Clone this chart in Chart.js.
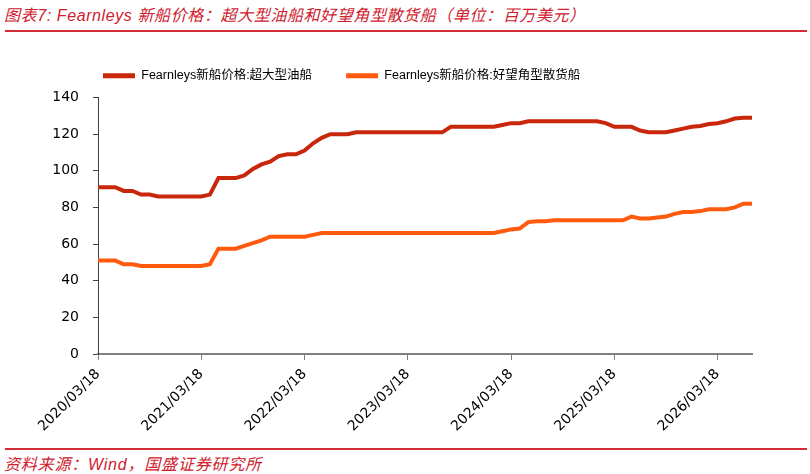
<!DOCTYPE html>
<html>
<head>
<meta charset="utf-8">
<script src="https://cdn.jsdelivr.net/npm/chart.js@4.4.0/dist/chart.umd.min.js"></script>
<style>
body { margin: 0; width: 810px; height: 474px; background: #fff; position: relative; overflow: hidden; }
.title { position: absolute; left: 4px; top: 2px; font: italic 16px "Liberation Sans", "Noto Sans CJK SC", sans-serif; letter-spacing: 0.6px; color: #d0202e; white-space: nowrap; }
.rule { position: absolute; left: 5px; width: 802px; height: 2px; background: #d42a36; }
.src { position: absolute; left: 4px; top: 451px; font: italic 16px "Liberation Sans", "Noto Sans CJK SC", sans-serif; letter-spacing: 0.8px; color: #d0202e; white-space: nowrap; }
#box { position: absolute; left: 0; top: 41px; }
</style>
</head>
<body>
<div class="title">图表7: Fearnleys 新船价格：超大型油船和好望角型散货船（单位：百万美元）</div>
<div class="rule" style="top:30px"></div>
<canvas id="box" width="810" height="398"></canvas>
<div class="rule" style="top:448px"></div>
<div class="src">资料来源：Wind，国盛证券研究所</div>
<script>
// monthly observations, 2020/03/18 .. 2026/07/18
const startYear = 2020, startMonth = 3, nMonths = 77
const dates = []
for (let i = 0; i < nMonths; i++) {
    const m = startMonth - 1 + i
    const y = startYear + Math.floor(m / 12)
    const mm = String(m % 12 + 1).padStart(2, "0")
    dates.push(y + "/" + mm + "/18")
}

const tickLabels = ["2020/03/18", "2021/03/18", "2022/03/18", "2023/03/18", "2024/03/18", "2025/03/18", "2026/03/18"]

const vlccName = "Fearnleys新船价格:超大型油船"
const capeName = "Fearnleys新船价格:好望角型散货船"

const vlcc = [
    91, 91, 91, 89, 89, 87, 87, 86, 86, 86, 86, 86, 86, 87, 96, 96, 96,
    97.5, 101, 103.5, 105, 108, 109, 109, 111, 115, 118, 120, 120, 120,
    121, 121, 121, 121, 121, 121, 121, 121, 121, 121, 121,
    124, 124, 124, 124, 124, 124,
    125, 126, 126,
    127, 127, 127, 127, 127, 127, 127, 127, 127,
    126, 124, 124, 124, 122, 121, 121, 121,
    122, 123, 124, 124.5, 125.5, 126, 127, 128.5, 129, 129
]

const cape = [
    51, 51, 51, 49, 49, 48, 48, 48, 48, 48, 48, 48, 48, 49,
    57.5, 57.5, 57.5, 59, 60.5, 62, 64, 64, 64, 64, 64, 65,
    66, 66, 66, 66, 66, 66, 66, 66, 66, 66, 66, 66, 66, 66, 66, 66, 66, 66, 66, 66, 66,
    67, 68, 68.5, 72, 72.5, 72.5,
    73, 73, 73, 73, 73, 73, 73, 73, 73,
    75, 74, 74, 74.5, 75, 76.5, 77.5, 77.5, 78, 79, 79, 79, 80, 82, 82
]

const tickFont = { family: "'DejaVu Sans', sans-serif", size: 14 }

// nudge the legend so it sits where the original has it
const legendNudge = {
    id: "legendNudge",
    afterLayout(chart) {
        const plotTop = chart.chartArea.top
        chart.legend.left += 16
        chart.legend.top = plotTop - 62
    }
}

const ctx = document.getElementById("box")
new Chart(ctx, {
    type: "line",
    data: {
        labels: dates,
        datasets: [
            { label: vlccName, data: vlcc, borderColor: "#c8270c", backgroundColor: "#c8270c", borderWidth: 4, pointRadius: 0, tension: 0 },
            { label: capeName, data: cape, borderColor: "#ff5a0d", backgroundColor: "#ff5a0d", borderWidth: 4, pointRadius: 0, tension: 0 }
        ]
    },
    options: {
        responsive: false,
        animation: false,
        layout: { padding: { left: 53, right: 58, top: 0, bottom: 0 } },
        plugins: {
            tooltip: { enabled: false },
            legend: {
                position: "top",
                align: "start",
                labels: {
                    boxWidth: 32,
                    boxHeight: 5,
                    padding: 34,
                    color: "#000",
                    font: { family: "'Liberation Sans', 'Noto Sans CJK SC', sans-serif", size: 12.5 },
                    generateLabels(chart) {
                        return Chart.defaults.plugins.legend.labels.generateLabels(chart).map(l => ({ ...l, lineWidth: 0 }))
                    }
                }
            }
        },
        scales: {
            x: {
                type: "category",
                grid: { drawOnChartArea: false, tickLength: 6, color: "#808080", lineWidth: 1 },
                border: { color: "#808080", width: 2 },
                ticks: {
                    autoSkip: false,
                    maxRotation: 45,
                    minRotation: 45,
                    padding: 6,
                    color: "#000",
                    font: tickFont,
                    callback: (v, i) => tickLabels.includes(dates[i]) ? dates[i] : null
                },
                afterFit: s => { s.height = 85 }
            },
            y: {
                min: 0,
                max: 140,
                grid: { drawOnChartArea: false, tickLength: 5, color: "#404040" },
                border: { color: "#404040", width: 1 },
                ticks: { stepSize: 20, padding: 14, color: "#000", font: tickFont },
                afterFit: s => { s.width = 45 }
            }
        }
    },
    plugins: [legendNudge]
})
</script>
</body>
</html>
